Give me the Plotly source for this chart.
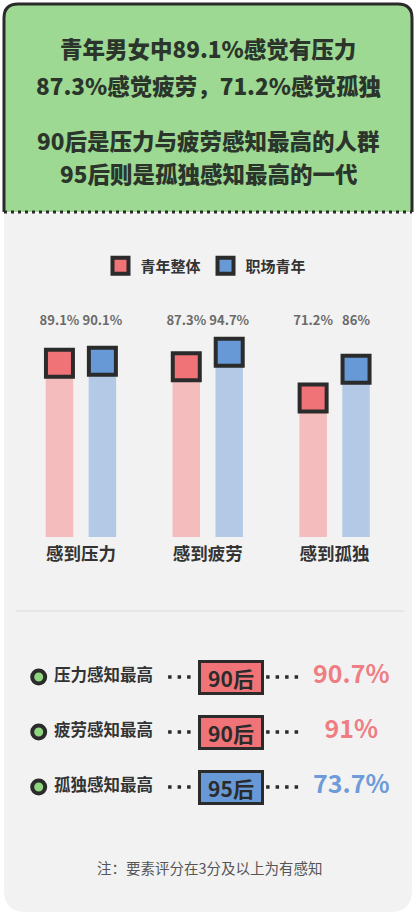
import plotly.graph_objects as go

# ---------------- data ----------------
categories = ["感到压力", "感到疲劳", "感到孤独"]
series_names = ["青年整体", "职场青年"]
youth_all = [89.1, 87.3, 71.2]
youth_work = [90.1, 94.7, 86.0]

rank_labels = ["压力感知最高", "疲劳感知最高", "孤独感知最高"]
rank_gens = ["90后", "90后", "95后"]
rank_values = [90.7, 91.0, 73.7]

title_lines = ["青年男女中89.1%感觉有压力", "87.3%感觉疲劳，71.2%感觉孤独",
               "90后是压力与疲劳感知最高的人群", "95后则是孤独感知最高的一代"]
note_text = "注：要素评分在3分及以上为有感知"

# ---------------- style ----------------
W, H = 416, 920
FONT = "Noto Sans CJK SC, Noto Sans, sans-serif"
DARK = "#2B2B2B"
RED_M, BLUE_M = "#F07377", "#6699D6"
RED_B, BLUE_B = "#F4BCBC", "#B3C9E6"
RED_V, BLUE_V = "#EE7E84", "#6E9BD9"
GREEN = "#9ED993"
PANEL = "#F2F2F2"
GAP = 0.323


def fx(px):
    return px / W


def fy(py):
    return 1 - py / H


def fmt(v):
    return f"{v:g}%"


fig = go.Figure()

# bars
for vals, name, col in [(youth_all, series_names[0], RED_B), (youth_work, series_names[1], BLUE_B)]:
    fig.add_trace(go.Bar(x=categories, y=vals, name=name, marker=dict(color=col, line=dict(width=0)),
                         offsetgroup=name, showlegend=False, hoverinfo="skip"))

# markers at bar tops
for vals, name, col in [(youth_all, series_names[0], RED_M), (youth_work, series_names[1], BLUE_M)]:
    fig.add_trace(go.Scatter(x=categories, y=vals, name=name, mode="markers", offsetgroup=name,
                             marker=dict(symbol="square", size=27, color=col, line=dict(color=DARK, width=4)),
                             showlegend=True, hoverinfo="skip"))

# value labels
LABEL_Y = 110.3
for vals, name in [(youth_all, series_names[0]), (youth_work, series_names[1])]:
    fig.add_trace(go.Scatter(x=categories, y=[LABEL_Y] * len(vals), mode="text", offsetgroup=name,
                             text=[fmt(v) for v in vals],
                             textfont=dict(family=FONT, size=13, color="#6A6A6A", weight="bold"),
                             showlegend=False, hoverinfo="skip"))

# ---------------- bottom ranking section ----------------
row_cols_box = [RED_M if g == "90后" else BLUE_M for g in rank_gens]
row_cols_val = [RED_V if g == "90后" else BLUE_V for g in rank_gens]

fig.add_trace(go.Scatter(x=[42] * 3, y=rank_labels, mode="markers", xaxis="x2", yaxis="y2",
                         marker=dict(symbol="circle", size=13, color="#8FD67F", line=dict(color=DARK, width=4)),
                         showlegend=False, hoverinfo="skip"))
fig.add_trace(go.Scatter(x=[55] * 3, y=rank_labels, mode="text", xaxis="x2", yaxis="y2",
                         text=rank_labels, textposition="middle right",
                         textfont=dict(family=FONT, size=16.5, color="#333333", weight="bold"),
                         showlegend=False, hoverinfo="skip"))
lx, ly = [], []
for lab in rank_labels:
    lx += [167, 193, None, 265, 299, None]
    ly += [lab, lab, None, lab, lab, None]
fig.add_trace(go.Scatter(x=lx, y=ly, mode="lines", xaxis="x2", yaxis="y2",
                         line=dict(color=DARK, width=3.5, dash="3.5px,6px"),
                         showlegend=False, hoverinfo="skip"))
fig.add_trace(go.Scatter(x=[348] * 3, y=rank_labels, mode="text", xaxis="x2", yaxis="y2",
                         text=[fmt(v) for v in rank_values],
                         textfont=dict(family=FONT, size=25, color=row_cols_val, weight="bold"),
                         showlegend=False, hoverinfo="skip"))

annotations = []
for lab, g, c in zip(rank_labels, rank_gens, row_cols_box):
    annotations.append(dict(x=230.5, y=lab, xref="x2", yref="y2", text=g, showarrow=False,
                            font=dict(family=FONT, size=21, color=DARK, weight="bold"),
                            bgcolor=c, bordercolor=DARK, borderwidth=3, borderpad=1,
                            width=58, height=27))

# title lines
for t, py in zip(title_lines, [48, 85, 140, 173]):
    annotations.append(dict(x=fx(208), y=fy(py), xref="paper", yref="paper", text=t, showarrow=False,
                            xanchor="center", yanchor="middle",
                            font=dict(family=FONT, size=22.5, color="#2B352B", weight=900)))
annotations.append(dict(x=fx(210), y=fy(867), xref="paper", yref="paper", text=note_text,
                        showarrow=False, xanchor="center", yanchor="middle",
                        font=dict(family=FONT, size=14.5, color="#555555")))


# ---------------- decoration shapes ----------------
def rpath(x0, y0, x1, y1, rt, rb):
    X0, X1 = fx(x0), fx(x1)
    Y0, Y1 = fy(y0), fy(y1)
    rtx, rty = rt / W, rt / H
    rbx, rby = rb / W, rb / H
    return (f"M {X0},{Y1 + rby} L {X0},{Y0 - rty} Q {X0},{Y0} {X0 + rtx},{Y0} "
            f"L {X1 - rtx},{Y0} Q {X1},{Y0} {X1},{Y0 - rty} L {X1},{Y1 + rby} "
            f"Q {X1},{Y1} {X1 - rbx},{Y1} L {X0 + rbx},{Y1} Q {X0},{Y1} {X0},{Y1 + rby} Z")


def border_path(x0, y0, x1, y1, r):
    X0, X1 = fx(x0), fx(x1)
    Y0, Y1 = fy(y0), fy(y1)
    rx, ry = r / W, r / H
    return (f"M {X0},{Y1} L {X0},{Y0 - ry} Q {X0},{Y0} {X0 + rx},{Y0} "
            f"L {X1 - rx},{Y0} Q {X1},{Y0} {X1},{Y0 - ry} L {X1},{Y1}")


shapes = [
    dict(type="path", xref="paper", yref="paper", path=rpath(4, 213, 412, 912, 0, 22),
         fillcolor=PANEL, line=dict(width=0), layer="below"),
    dict(type="path", xref="paper", yref="paper", path=rpath(4, 4, 412, 212, 14, 0),
         fillcolor=GREEN, line=dict(width=0), layer="below"),
    dict(type="path", xref="paper", yref="paper", path=border_path(4, 4, 412, 212, 14),
         fillcolor="rgba(0,0,0,0)", line=dict(color=DARK, width=3), layer="above"),
    dict(type="line", xref="paper", yref="paper", x0=fx(4), x1=fx(412), y0=fy(212), y1=fy(212),
         line=dict(color=DARK, width=3, dash="3px,4px")),
    dict(type="line", xref="paper", yref="paper", x0=fx(16), x1=fx(404), y0=fy(611), y1=fy(611),
         line=dict(color="#DADADA", width=1)),
]

fig.update_layout(
    width=W, height=H, margin=dict(l=0, r=0, t=0, b=0),
    paper_bgcolor="white", plot_bgcolor="rgba(0,0,0,0)",
    barmode="group", bargap=GAP, bargroupgap=0.36,
    scattermode="group", scattergap=GAP,
    xaxis=dict(domain=[fx(17.5), fx(398)], range=[-0.5, 2.5], type="category",
               showgrid=False, zeroline=False, showline=False, ticks="", ticklabelstandoff=4,
               tickfont=dict(family=FONT, size=17.5, color="#333333", weight="bold"), fixedrange=True),
    yaxis=dict(domain=[fy(537), fy(300)], range=[0, 121.5], visible=False, fixedrange=True),
    xaxis2=dict(domain=[0, 1], range=[0, W], visible=False, anchor="y2", fixedrange=True),
    yaxis2=dict(domain=[fy(814.5), fy(649.5)], range=[2.5, -0.5], type="category",
                visible=False, anchor="x2", fixedrange=True),
    legend=dict(orientation="h", x=fx(206), xanchor="center", y=fy(266), yanchor="middle",
                font=dict(family=FONT, size=15, color="#333333", weight="bold"),
                bgcolor="rgba(0,0,0,0)", itemclick=False, itemdoubleclick=False),
    annotations=annotations,
    shapes=shapes,
    showlegend=True,
)

fig.write_html("out.html", config={"displayModeBar": False},
               post_script="document.body.style.margin='0';")
